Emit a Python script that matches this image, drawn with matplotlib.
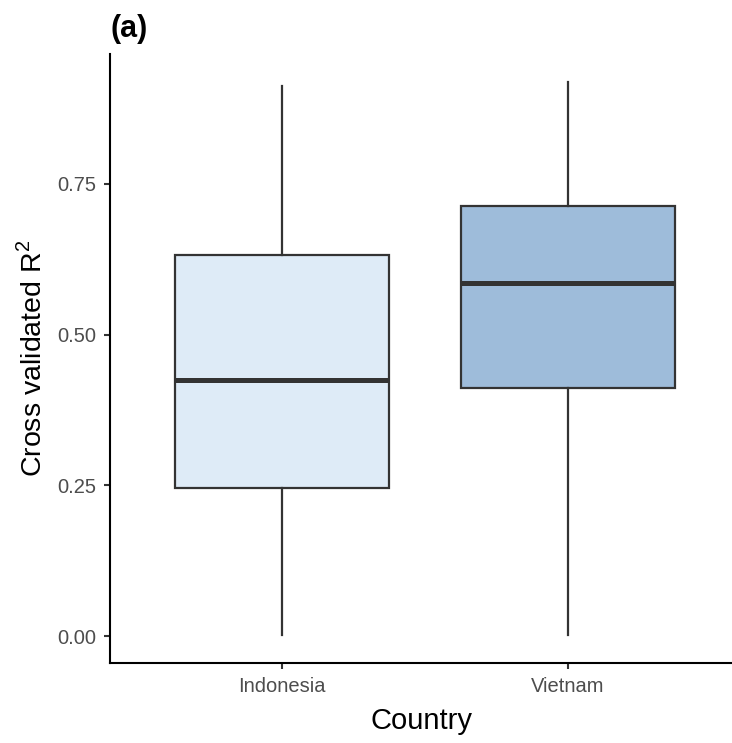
import matplotlib
matplotlib.use("Agg")
import matplotlib.pyplot as plt

plt.rcParams['font.family'] = ['Liberation Sans', 'DejaVu Sans']
plt.rcParams['mathtext.fontset'] = 'custom'
plt.rcParams['mathtext.rm'] = 'Liberation Sans'

# box summaries per country
countries = ['Indonesia', 'Vietnam']
whisker_low = [0.002, 0.002]
q1 = [0.246, 0.412]
median = [0.424, 0.586]
q3 = [0.633, 0.713]
whisker_high = [0.912, 0.920]
fills = ['#DEEBF7', '#9EBCDA']

yticks = [0.00, 0.25, 0.50, 0.75]

fig = plt.figure(figsize=(7.32, 7.43), dpi=100)
ax = fig.add_axes([110 / 732, 80 / 743, 1 - 110 / 732, (663 - 54) / 743])

stats = []
for i, name in enumerate(countries):
    stats.append(dict(label=name, whislo=whisker_low[i], q1=q1[i], med=median[i],
                      q3=q3[i], whishi=whisker_high[i], fliers=[]))

bp = ax.bxp(stats, positions=[1, 2], widths=0.75, patch_artist=True,
            showcaps=False, showfliers=False,
            boxprops=dict(edgecolor='#333333', linewidth=1.6),
            whiskerprops=dict(color='#333333', linewidth=1.6),
            medianprops=dict(color='#333333', linewidth=3.6, solid_capstyle='butt'))
for patch, c in zip(bp['boxes'], fills):
    patch.set_facecolor(c)

ax.set_xlim(0.399, 2.573)
ax.set_ylim(-0.0448, 0.9657)
ax.set_yticks(yticks)
ax.set_yticklabels([f'{v:.2f}' for v in yticks])

for side in ['top', 'right']:
    ax.spines[side].set_visible(False)
for side in ['left', 'bottom']:
    ax.spines[side].set_linewidth(1.5)
    ax.spines[side].set_color('black')
ax.tick_params(axis='both', length=4, width=1.5, color='#333333',
               labelcolor='#4D4D4D', labelsize=14.5)
ax.tick_params(axis='x', pad=6)
ax.tick_params(axis='y', pad=6)

ax.set_xlabel('Country', fontsize=21, labelpad=8)
ax.set_ylabel(r'Cross validated R$^2$', fontsize=20.5, labelpad=7)

fig.text(110 / 732, 1 - 37 / 743, '(a)', fontsize=22, fontweight='bold',
         ha='left', va='baseline')

fig.savefig('out.png', dpi=100)
